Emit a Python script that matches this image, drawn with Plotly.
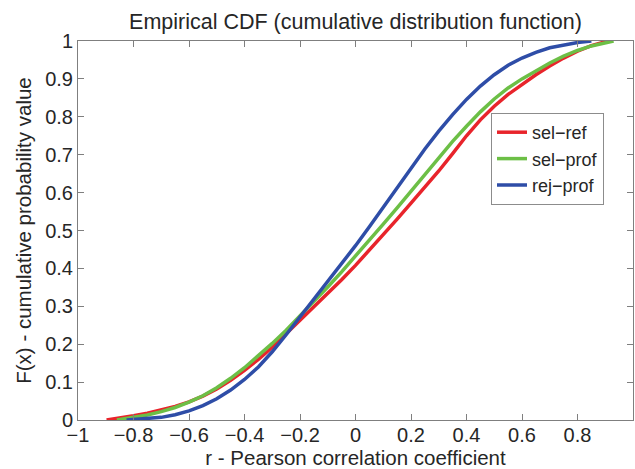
import plotly.graph_objects as go

# ---- data ----
red_x = [-0.897, -0.85, -0.80, -0.75, -0.70, -0.65, -0.60, -0.55, -0.50, -0.45, -0.40, -0.35, -0.30,
         -0.25, -0.20, -0.15, -0.10, -0.05, 0.00, 0.05, 0.10, 0.15, 0.20, 0.25, 0.30, 0.35, 0.40,
         0.45, 0.50, 0.55, 0.60, 0.65, 0.70, 0.75, 0.80, 0.85, 0.90, 0.905]
red_y = [0.0, 0.005, 0.011, 0.018, 0.026, 0.036, 0.048, 0.063, 0.082, 0.105, 0.131, 0.160, 0.192,
         0.227, 0.262, 0.297, 0.333, 0.370, 0.408, 0.448, 0.489, 0.530, 0.572, 0.614, 0.657, 0.703,
         0.750, 0.792, 0.828, 0.859, 0.886, 0.911, 0.934, 0.955, 0.973, 0.988, 0.998, 1.0]

green_x = [-0.86, -0.80, -0.75, -0.70, -0.65, -0.60, -0.55, -0.50, -0.45, -0.40, -0.35, -0.30,
           -0.25, -0.20, -0.15, -0.10, -0.05, 0.00, 0.05, 0.10, 0.15, 0.20, 0.25, 0.30, 0.35, 0.40,
           0.45, 0.50, 0.55, 0.60, 0.65, 0.70, 0.75, 0.80, 0.85, 0.90, 0.93]
green_y = [0.0, 0.006, 0.013, 0.022, 0.033, 0.047, 0.064, 0.085, 0.110, 0.138, 0.169, 0.202,
           0.237, 0.274, 0.312, 0.351, 0.391, 0.432, 0.474, 0.517, 0.560, 0.604, 0.648, 0.692,
           0.735, 0.775, 0.813, 0.847, 0.876, 0.900, 0.922, 0.942, 0.960, 0.975, 0.987, 0.996, 1.0]

blue_x = [-0.825, -0.75, -0.70, -0.65, -0.60, -0.55, -0.50, -0.45, -0.40, -0.35, -0.30, -0.25,
          -0.20, -0.15, -0.10, -0.05, 0.00, 0.05, 0.10, 0.15, 0.20, 0.25, 0.30, 0.35, 0.40, 0.45,
          0.50, 0.55, 0.60, 0.65, 0.70, 0.75, 0.80, 0.85]
blue_y = [0.0, 0.003, 0.007, 0.014, 0.024, 0.038, 0.056, 0.079, 0.107, 0.140, 0.180, 0.225,
          0.272, 0.318, 0.365, 0.412, 0.460, 0.510, 0.561, 0.613, 0.665, 0.715, 0.762, 0.806,
          0.846, 0.881, 0.911, 0.936, 0.955, 0.970, 0.982, 0.990, 0.996, 1.0]

series_names = ["sel\u2212ref", "sel\u2212prof", "rej\u2212prof"]
series_colors = ["#E8242B", "#6CBF46", "#2E4DA7"]

x_ticks = [-1, -0.8, -0.6, -0.4, -0.2, 0, 0.2, 0.4, 0.6, 0.8, 1]
x_tick_text = ["\u22121", "\u22120.8", "\u22120.6", "\u22120.4", "\u22120.2", "0", "0.2", "0.4", "0.6", "0.8", "1"]
y_ticks = [0, 0.1, 0.2, 0.3, 0.4, 0.5, 0.6, 0.7, 0.8, 0.9, 1]
y_tick_text = ["0", "0.1", "0.2", "0.3", "0.4", "0.5", "0.6", "0.7", "0.8", "0.9", "1"]

FONT = "Liberation Sans, Arial, sans-serif"
TXT = "#262626"

fig = go.Figure()
for xs, ys, name, col in zip([red_x, green_x, blue_x], [red_y, green_y, blue_y], series_names, series_colors):
    fig.add_trace(go.Scatter(x=xs, y=ys, mode="lines", name=name,
                             line=dict(color=col, width=3.5)))

axis_common = dict(
    showgrid=False, zeroline=False, showline=True, linecolor="#7f7f7f", linewidth=1,
    mirror="ticks", ticks="inside", ticklen=6, tickcolor="#7f7f7f",
    tickfont=dict(family=FONT, size=20, color=TXT),
)

fig.update_layout(
    width=635, height=469,
    paper_bgcolor="white", plot_bgcolor="white",
    margin=dict(l=78, r=2, t=41, b=49),
    title=dict(text="Empirical CDF (cumulative distribution function)",
               font=dict(family=FONT, size=21.5, color=TXT),
               xref="paper", x=0.5, xanchor="center",
               yref="container", y=1 - 21 / 469, yanchor="middle"),
    xaxis=dict(range=[-1, 1], tickvals=x_ticks, ticktext=x_tick_text, ticklabelstandoff=-3,
               title=dict(text="r - Pearson correlation coefficient",
                          font=dict(family=FONT, size=20.5, color=TXT), standoff=0),
               **axis_common),
    yaxis=dict(range=[0, 1], tickvals=y_ticks, ticktext=y_tick_text,
               title=dict(text="F(x) - cumulative probability value",
                          font=dict(family=FONT, size=20.5, color=TXT), standoff=8),
               **axis_common),
    legend=dict(x=(491 - 78) / 555, y=(420 - 113) / 379, xanchor="left", yanchor="top",
                bgcolor="white", bordercolor="#8c8c8c", borderwidth=1,
                font=dict(family=FONT, size=18, color=TXT),
                tracegroupgap=0, itemwidth=30),
    showlegend=True,
)

fig.write_html("out.html")
